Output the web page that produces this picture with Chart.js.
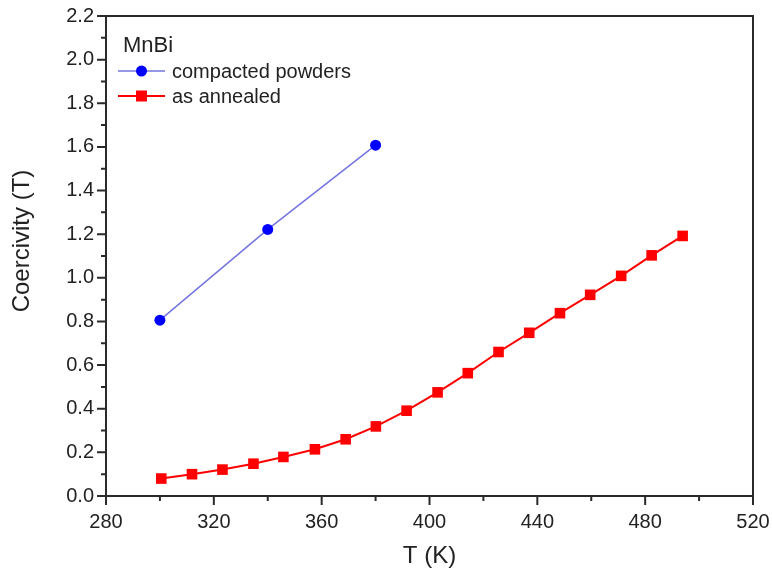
<!DOCTYPE html>
<html>
<head>
<meta charset="utf-8">
<script src="https://cdn.jsdelivr.net/npm/chart.js@4"></script>
<style>
  html, body { margin: 0; padding: 0; background: #fff; }
  #wrap { width: 772px; height: 576px; position: relative; }
</style>
</head>
<body>
<div id="wrap"><canvas id="c" width="772" height="576"></canvas></div>
<script>
// ---- data ----
const legendTitle = "MnBi";
const seriesNames = ["compacted powders", "as annealed"];
const compactedT = [300, 340, 380];
const compactedHc = [0.806, 1.222, 1.608];
const annealedT = [300.5, 311.9, 323.2, 334.7, 345.8, 357.5, 368.9, 380.1, 391.5, 403.0, 414.2, 425.6, 437.0, 448.4, 459.6, 471.1, 482.4, 493.9];
const annealedHc = [0.080, 0.100, 0.121, 0.148, 0.179, 0.214, 0.260, 0.319, 0.391, 0.475, 0.563, 0.660, 0.748, 0.838, 0.922, 1.009, 1.103, 1.192];
const xTicks = [280, 320, 360, 400, 440, 480, 520];
const yTicks = [0.0, 0.2, 0.4, 0.6, 0.8, 1.0, 1.2, 1.4, 1.6, 1.8, 2.0, 2.2];
const xTitle = "T (K)";
const yTitle = "Coercivity (T)";

const FONT = "'Liberation Sans', Arial, sans-serif";
const AX = "#2a2a2a";

const toPts = (xs, ys) => xs.map((x, i) => ({x, y: ys[i]}));

const framePlugin = {
  id: 'frame',
  afterDraw(chart) {
    const {ctx, chartArea: a, scales} = chart;
    const xs = scales.x, ys = scales.y;
    ctx.save();
    ctx.strokeStyle = AX;
    ctx.lineWidth = 2;
    ctx.strokeRect(a.left, a.top, a.right - a.left, a.bottom - a.top);
    ctx.lineWidth = 2;
    ctx.beginPath();
    for (let i = 0; i < xTicks.length; i++) {
      const px = xs.getPixelForValue(xTicks[i]);
      ctx.moveTo(px, a.bottom); ctx.lineTo(px, a.bottom + 9);
      if (i < xTicks.length - 1) {
        const mx = xs.getPixelForValue((xTicks[i] + xTicks[i + 1]) / 2);
        ctx.moveTo(mx, a.bottom); ctx.lineTo(mx, a.bottom + 5);
      }
    }
    for (let i = 0; i < yTicks.length; i++) {
      const py = ys.getPixelForValue(yTicks[i]);
      ctx.moveTo(a.left, py); ctx.lineTo(a.left - 9, py);
      if (i < yTicks.length - 1) {
        const my = ys.getPixelForValue((yTicks[i] + yTicks[i + 1]) / 2);
        ctx.moveTo(a.left, my); ctx.lineTo(a.left - 5, my);
      }
    }
    ctx.stroke();

    // y axis title
    ctx.save();
    ctx.translate(22, a.top + (a.bottom - a.top) / 2 - 15);
    ctx.rotate(-Math.PI / 2);
    ctx.fillStyle = "#222";
    ctx.font = "24px " + FONT;
    ctx.textAlign = "center";
    ctx.textBaseline = "middle";
    ctx.fillText(yTitle, 0, 0);
    ctx.restore();

    // legend
    ctx.fillStyle = "#222";
    ctx.textBaseline = "alphabetic";
    ctx.font = "22px " + FONT;
    ctx.fillText(legendTitle, a.left + 17, a.top + 36);
    const rows = [
      {y: a.top + 55, color: "#7474e0", mk: "#0000ff", circle: true, lw: 1.5},
      {y: a.top + 80, color: "#ff0000", mk: "#ff0000", circle: false, lw: 2}
    ];
    ctx.font = "20px " + FONT;
    rows.forEach((r, i) => {
      ctx.strokeStyle = r.color; ctx.lineWidth = r.lw;
      ctx.beginPath(); ctx.moveTo(a.left + 12, r.y); ctx.lineTo(a.left + 59, r.y); ctx.stroke();
      ctx.fillStyle = r.mk;
      const cx = a.left + 35.5;
      if (r.circle) { ctx.beginPath(); ctx.arc(cx, r.y, 5.5, 0, Math.PI * 2); ctx.fill(); }
      else { ctx.fillRect(cx - 5.5, r.y - 5.5, 11, 11); }
      ctx.fillStyle = "#222";
      ctx.textBaseline = "middle";
      ctx.fillText(seriesNames[i], a.left + 66, r.y + 1);
    });
    ctx.restore();
  }
};

new Chart(document.getElementById('c'), {
  type: 'scatter',
  data: {
    datasets: [
      {
        label: seriesNames[0],
        data: toPts(compactedT, compactedHc),
        showLine: true,
        borderColor: "#7474e0",
        borderWidth: 1.5,
        pointStyle: 'circle',
        pointRadius: 5.5,
        pointBackgroundColor: "#0000ff",
        pointBorderColor: "#0000ff",
        pointBorderWidth: 0
      },
      {
        label: seriesNames[1],
        data: toPts(annealedT, annealedHc),
        showLine: true,
        borderColor: "#ff0000",
        borderWidth: 2,
        pointStyle: 'rect',
        pointRadius: 7.5,
        pointBackgroundColor: "#ff0000",
        pointBorderColor: "#ff0000",
        pointBorderWidth: 0
      }
    ]
  },
  options: {
    responsive: false,
    animation: false,
    devicePixelRatio: 1,
    clip: false,
    layout: { padding: { top: 16, right: 19, left: 0, bottom: 0 } },
    plugins: { legend: { display: false }, tooltip: { enabled: false } },
    scales: {
      x: {
        type: 'linear', min: 280, max: 520,
        afterBuildTicks(s) { s.ticks = xTicks.map(v => ({value: v})); },
        afterFit(s) { s.height = 80; s.paddingLeft = 0; s.paddingRight = 0; },
        grid: { display: false, drawTicks: false },
        border: { display: false },
        ticks: { color: "#222", font: { family: FONT, size: 20 }, padding: 14, maxRotation: 0,
                 callback: v => String(v) },
        title: { display: true, text: xTitle, color: "#222", font: { family: FONT, size: 24 },
                 padding: { top: 0, bottom: 5 } }
      },
      y: {
        type: 'linear', min: 0, max: 2.2,
        afterBuildTicks(s) { s.ticks = yTicks.map(v => ({value: v})); },
        afterFit(s) { s.width = 106; s.paddingTop = 0; s.paddingBottom = 0; },
        grid: { display: false, drawTicks: false },
        border: { display: false },
        ticks: { color: "#222", font: { family: FONT, size: 20 }, padding: 12,
                 callback: v => Number(v).toFixed(1) },
        title: { display: false, text: yTitle }
      }
    }
  },
  plugins: [framePlugin]
});
</script>
</body>
</html>
